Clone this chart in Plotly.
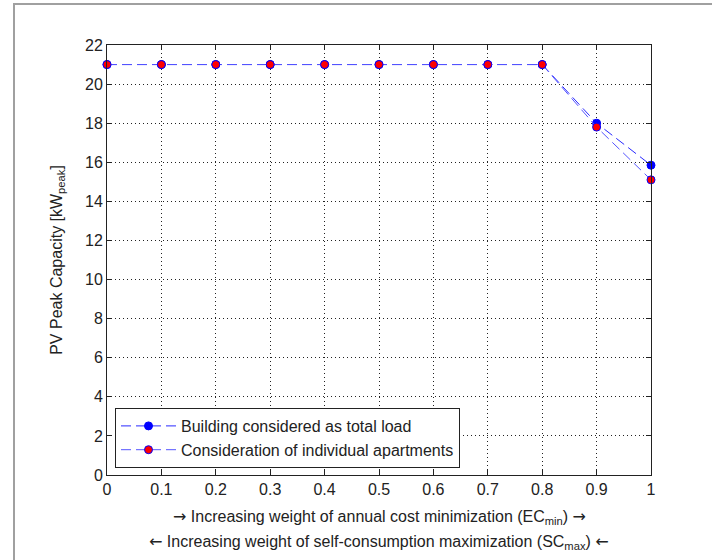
import plotly.graph_objects as go

weights = [0, 0.1, 0.2, 0.3, 0.4, 0.5, 0.6, 0.7, 0.8, 0.9, 1.0]
building_total = [21, 21, 21, 21, 21, 21, 21, 21, 21, 18.0, 15.85]
individual_apts = [21, 21, 21, 21, 21, 21, 21, 21, 21, 17.8, 15.1]
x_ticks = [0, 0.1, 0.2, 0.3, 0.4, 0.5, 0.6, 0.7, 0.8, 0.9, 1]
x_tick_text = ["0", "0.1", "0.2", "0.3", "0.4", "0.5", "0.6", "0.7", "0.8", "0.9", "1"]
y_ticks = list(range(0, 23, 2))
x_title_lines = [
    "\u2192 Increasing weight of annual cost minimization (EC<sub>min</sub>) \u2192",
    "\u2190 Increasing weight of self-consumption maximization (SC<sub>max</sub>) \u2190",
]

FONT = "Liberation Sans, Arial, sans-serif"


def arrows(s):
    return (s.replace("\u2192", "<span style='font-family:DejaVu Sans'>\u2192</span>")
             .replace("\u2190", "<span style='font-family:DejaVu Sans'>\u2190</span>"))


fig = go.Figure()
fig.add_trace(go.Scatter(
    x=weights, y=building_total, mode="lines+markers",
    name="Building considered as total load",
    line=dict(color="#2a2aff", width=1, dash="10px,5px"),
    marker=dict(color="#0000ff", size=8, line=dict(color="#0000ff", width=1)),
    cliponaxis=False,
))
fig.add_trace(go.Scatter(
    x=weights, y=individual_apts, mode="lines+markers",
    name="Consideration of individual apartments",
    line=dict(color="#5555ff", width=1, dash="10px,5px"),
    marker=dict(color="#ff0000", size=8, line=dict(color="#0000ff", width=1)),
    cliponaxis=False,
))

axis_common = dict(
    showline=True, linecolor="#222", linewidth=1, mirror="ticks",
    ticks="inside", ticklen=5, tickcolor="#222",
    showgrid=True, gridcolor="#222", griddash="1px,3px", gridwidth=1,
    zeroline=False, tickfont=dict(family=FONT, size=16, color="#222"),
)

fig.update_xaxes(range=[0, 1], tickvals=x_ticks, ticktext=x_tick_text, **axis_common)
fig.update_yaxes(range=[0, 22], tickvals=y_ticks,
                 title=dict(text="PV Peak Capacity [kW<sub>peak</sub>]",
                            font=dict(family=FONT, size=16, color="#222"), standoff=18),
                 **axis_common)

annotations = []
for i, line in enumerate(x_title_lines):
    annotations.append(dict(
        text=arrows(line), xref="paper", yref="paper", x=0.5, y=0,
        yshift=-(42 + 25 * i), xanchor="center", yanchor="middle",
        showarrow=False, font=dict(family=FONT, size=16, color="#222"),
    ))

fig.update_layout(
    width=712, height=560,
    margin=dict(l=107, r=61, t=45, b=85),
    plot_bgcolor="white", paper_bgcolor="white",
    showlegend=True,
    annotations=annotations,
    legend=dict(x=8/544, y=7/430, xanchor="left", yanchor="bottom",
                bgcolor="white", bordercolor="#222", borderwidth=1,
                font=dict(family=FONT, size=16, color="#222"),
                tracegroupgap=0, itemwidth=55),
    shapes=[dict(type="rect", xref="paper", yref="paper",
                 x0=-93/544, x1=1 + 80/544, y0=-100/430, y1=1 + 41/430,
                 line=dict(color="#a0a0a0", width=2), layer="below")],
)

fig.write_html("out.html", config={"displayModeBar": False},
               post_script="document.body.style.margin='0px';")
